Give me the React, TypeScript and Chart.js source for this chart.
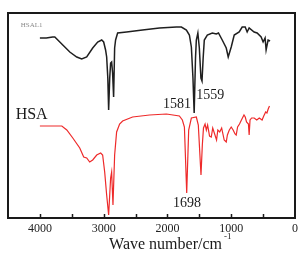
import { useEffect, useRef } from "react";
import { Chart, registerables } from "chart.js";

Chart.register(...registerables);

// Wavenumber (cm-1) and transmittance (a.u.)
const wnHSAL1 = [4000, 3900, 3800, 3766, 3719, 3641, 3531, 3422, 3344, 3266, 3172, 3094, 3031, 3000, 2970, 2953, 2935, 2922, 2905, 2891, 2875, 2860, 2844, 2828, 2813, 2781, 2641, 2391, 2125, 1859, 1781, 1703, 1656, 1625, 1600, 1581, 1560, 1547, 1523, 1500, 1475, 1458, 1440, 1422, 1375, 1297, 1234, 1200, 1141, 1078, 1047, 1000, 953, 875, 828, 781, 750, 719, 641, 594, 531, 500, 469, 453, 422, 391];
const tHSAL1 = [180, 180, 181, 181, 178, 173, 166, 161, 159, 161, 170, 176, 178, 176, 168, 161, 140, 108, 140, 155, 156, 145, 121, 170, 178, 185, 186, 188, 190, 191, 191, 188, 183, 171, 140, 105, 160, 178, 185, 170, 140, 137, 160, 178, 183, 185, 184, 185, 178, 170, 161, 171, 183, 186, 191, 191, 186, 190, 186, 185, 181, 176, 180, 168, 178, 177];

const wnHSA = [4000, 3800, 3656, 3578, 3484, 3375, 3313, 3266, 3219, 3172, 3109, 3047, 3016, 2984, 2953, 2922, 2891, 2875, 2854, 2828, 2797, 2750, 2703, 2547, 2281, 2016, 1813, 1766, 1734, 1698, 1667, 1625, 1547, 1516, 1474, 1453, 1435, 1410, 1390, 1370, 1340, 1313, 1290, 1260, 1230, 1210, 1180, 1150, 1110, 1078, 1060, 1030, 1000, 970, 940, 922, 900, 870, 840, 800, 780, 760, 730, 719, 705, 680, 640, 600, 560, 516, 490, 460, 440, 420, 400];
const tHSA = [92, 92, 92, 88, 80, 70, 61, 60, 56, 58, 63, 65, 63, 46, 23, 3, 40, 46, 13, 63, 86, 94, 97, 101, 103, 104, 102, 98, 91, 25, 88, 100, 101, 93, 43, 73, 90, 94, 88, 93, 82, 81, 90, 84, 78, 88, 86, 90, 78, 76, 83, 88, 91, 88, 84, 83, 91, 94, 98, 103, 101, 96, 94, 83, 98, 100, 100, 98, 100, 98, 102, 106, 105, 109, 112];

const xTickLabels = [4000, 3000, 2000, 1000, 0];
const xMinorTicks = [4000, 3500, 3000, 2500, 2000, 1500, 1000, 500];
const seriesNames = ["HSAL1", "HSA"];
const peakLabels = ["1581", "1559", "1698"];

const SERIF = "'Liberation Serif', 'Times New Roman', serif";

const framePlugin = {
  id: "framePlugin",
  afterDraw(chart: any) {
    const { ctx, chartArea } = chart;
    const { left, top, right, bottom } = chartArea;
    const xs = chart.scales.x;
    const ys = chart.scales.y;
    ctx.save();
    // frame
    ctx.strokeStyle = "#1a1a1a";
    ctx.lineWidth = 2;
    ctx.strokeRect(left, top, right - left, bottom - top);
    // inward ticks
    ctx.lineWidth = 1.5;
    xMinorTicks.forEach((v) => {
      const px = Math.round(xs.getPixelForValue(v)) + 0.5;
      ctx.beginPath();
      ctx.moveTo(px, bottom);
      ctx.lineTo(px, bottom - 4);
      ctx.stroke();
    });
    // annotations
    const txt = (s: string, wn: number, t: number, size: number, align: CanvasTextAlign, color: string) => {
      ctx.font = `${size}px ${SERIF}`;
      ctx.fillStyle = color;
      ctx.textAlign = align;
      ctx.textBaseline = "middle";
      ctx.fillText(s, xs.getPixelForValue(wn), ys.getPixelForValue(t));
    };
    txt(seriesNames[0], 4300, 193, 7, "left", "#8a8a8a");
    txt(seriesNames[1], 4380, 103, 16, "left", "#1a1a1a");
    txt(peakLabels[0], 1630, 114, 14, "right", "#1a1a1a");
    txt(peakLabels[1], 1550, 123, 14, "left", "#1a1a1a");
    txt(peakLabels[2], 1695, 15, 14, "center", "#1a1a1a");
    // axis title with superscript
    ctx.fillStyle = "#1a1a1a";
    ctx.textBaseline = "alphabetic";
    ctx.textAlign = "left";
    ctx.font = `16px ${SERIF}`;
    const main = "Wave number/cm";
    const w = ctx.measureText(main).width;
    const cx = (left + right) / 2 + 14;
    const x0 = cx - w / 2;
    const baseY = chart.height - 11;
    ctx.fillText(main, x0, baseY);
    ctx.font = `9px ${SERIF}`;
    ctx.fillText("-1", x0 + w + 2, baseY - 10);
    ctx.restore();
  },
};

export default function App() {
  const ref = useRef<HTMLCanvasElement | null>(null);
  useEffect(() => {
    if (!ref.current) return;
    const chart = new Chart(ref.current, {
      type: "line",
      data: {
        datasets: [
          {
            label: seriesNames[0],
            data: wnHSAL1.map((x, i) => ({ x, y: tHSAL1[i] })),
            borderColor: "#1f1f1f",
            borderWidth: 1.5,
            pointRadius: 0,
            tension: 0,
          },
          {
            label: seriesNames[1],
            data: wnHSA.map((x, i) => ({ x, y: tHSA[i] })),
            borderColor: "#ee2a2a",
            borderWidth: 1.2,
            pointRadius: 0,
            tension: 0,
          },
        ],
      },
      options: {
        responsive: false,
        animation: false,
        events: [],
        layout: { padding: { left: 8, top: 13, right: 3, bottom: 0 } },
        plugins: { legend: { display: false }, tooltip: { enabled: false } },
        scales: {
          x: {
            type: "linear",
            reverse: true,
            min: 0,
            max: 4500,
            grid: { display: false, drawTicks: false },
            border: { display: false },
            afterFit: (s: any) => {
              s.height = 42;
              s.paddingLeft = 0;
              s.paddingRight = 0;
            },
            ticks: {
              stepSize: 500,
              autoSkip: false,
              maxRotation: 0,
              padding: 4,
              color: "#222",
              font: { family: SERIF, size: 12 },
              callback: (v: any) => (xTickLabels.includes(Number(v)) ? String(v) : ""),
            },
          },
          y: { display: false, min: 0, max: 205 },
        },
      },
      plugins: [framePlugin],
    });
    return () => chart.destroy();
  }, []);
  return (
    <div style={{ position: "fixed", left: 0, top: 0, width: 298, height: 260, background: "#fff" }}>
      <canvas ref={ref} width={298} height={260} />
    </div>
  );
}
